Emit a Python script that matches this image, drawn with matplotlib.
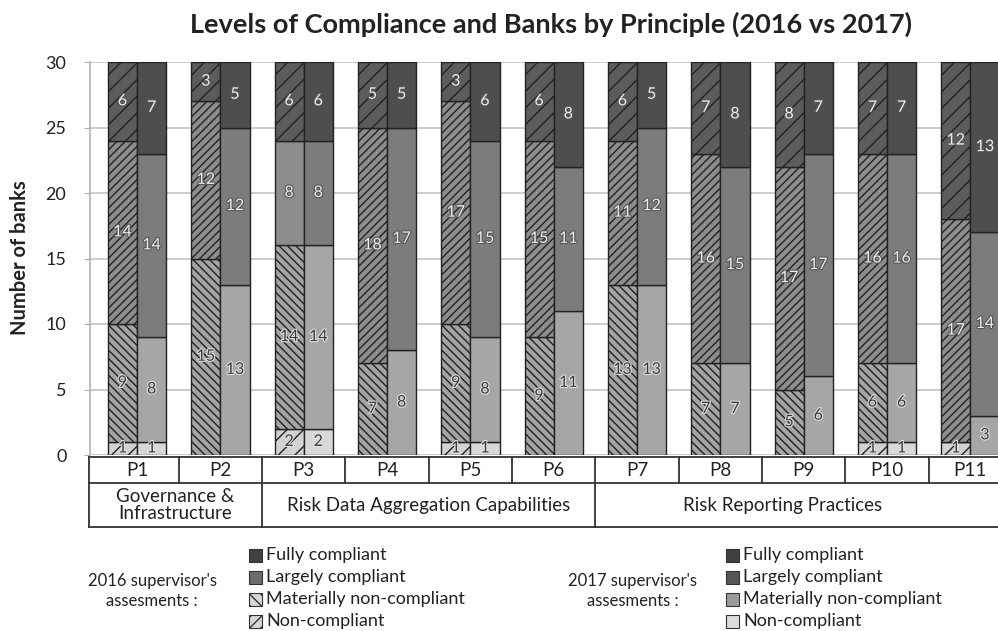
import numpy as np
import matplotlib
matplotlib.use("Agg")
import matplotlib.pyplot as plt
import matplotlib.patheffects as pe
from matplotlib.patches import Rectangle
from matplotlib.lines import Line2D
from matplotlib import transforms

plt.rcParams['font.family'] = ['Lato', 'DejaVu Sans']
plt.rcParams['hatch.linewidth'] = 1.0

principles = ['P1', 'P2', 'P3', 'P4', 'P5', 'P6', 'P7', 'P8', 'P9', 'P10', 'P11']
groups = ['Governance &\nInfrastructure', 'Risk Data Aggregation Capabilities', 'Risk Reporting Practices']
group_sizes = [2, 4, 5]
levels = ['Non-compliant', 'Materially non-compliant', 'Largely compliant', 'Fully compliant']

# 2016 assessments, bottom to top
non_2016 = [1, 0, 2, 0, 1, 0, 0, 0, 0, 1, 1]
mat_2016 = [9, 15, 14, 7, 9, 9, 13, 7, 5, 6, 0]
large_2016 = [14, 12, 8, 18, 17, 15, 11, 16, 17, 16, 17]
full_2016 = [6, 3, 6, 5, 3, 6, 6, 7, 8, 7, 12]

# 2017 assessments, bottom to top
non_2017 = [1, 0, 2, 0, 1, 0, 0, 0, 0, 1, 0]
mat_2017 = [8, 13, 14, 8, 8, 11, 13, 7, 6, 6, 3]
large_2017 = [14, 12, 8, 17, 15, 11, 12, 15, 17, 16, 14]
full_2017 = [7, 5, 6, 5, 6, 8, 5, 8, 7, 7, 13]

fill_2016 = ['#d2d2d2', '#a4a4a4', '#8c8c8c', '#5c5c5c']
hatch_2016 = ['//', '\\\\\\\\', '////', '//']
fill_2017 = ['#d8d8d8', '#a6a6a6', '#7c7c7c', '#4e4e4e']

fig = plt.figure(figsize=(9.98, 6.31), dpi=100)
ax = fig.add_axes([90 / 998, 176 / 631, 922 / 998, 393 / 631])

x = np.arange(len(principles))
w = 0.35

light_txt = dict(color='#eeeeee', path_effects=[pe.withStroke(linewidth=1.6, foreground='#555555')])
dark_txt = dict(color='#3a3a3a', path_effects=[pe.withStroke(linewidth=1.6, foreground='#e0e0e0')])

series_2016 = [non_2016, mat_2016, large_2016, full_2016]
series_2017 = [non_2017, mat_2017, large_2017, full_2017]

bottom = np.zeros(len(x))
for k, vals in enumerate(series_2016):
    vals = np.array(vals)
    bars = ax.bar(x - w / 2, vals, w, bottom=bottom, color=fill_2016[k], edgecolor='#222222',
                  linewidth=1.0, hatch=hatch_2016[k], zorder=3)
    for i, v in enumerate(vals):
        if v > 0:
            style = light_txt if k >= 2 else dark_txt
            ax.text(x[i] - w / 2, bottom[i] + v / 2, str(v), ha='center', va='center',
                    fontsize=11.5, zorder=5, **style)
    bottom += vals

bottom = np.zeros(len(x))
for k, vals in enumerate(series_2017):
    vals = np.array(vals)
    ax.bar(x + w / 2, vals, w, bottom=bottom, color=fill_2017[k], edgecolor='#222222',
           linewidth=1.0, zorder=3)
    for i, v in enumerate(vals):
        if v > 0:
            style = light_txt if k >= 2 else dark_txt
            ax.text(x[i] + w / 2, bottom[i] + v / 2, str(v), ha='center', va='center',
                    fontsize=11.5, zorder=5, **style)
    bottom += vals

# P3 2016 largely compliant segment is drawn without hatching
for p in ax.patches:
    if abs(p.get_x() + p.get_width() / 2 - (2 - w / 2)) < 1e-6 and abs(p.get_y() - 16) < 1e-6:
        p.set_hatch('')

ax.set_ylim(0, 30)
ax.set_xlim(-0.565, 10.5)
ax.set_yticks(range(0, 31, 5))
ax.set_xticks([])
ax.tick_params(axis='y', labelsize=13, length=4, color='#b0b0b0', pad=13, labelcolor='#222222')
ax.yaxis.grid(True, color='#c4c4c4', linewidth=1.2, zorder=0)
ax.set_axisbelow(True)
for s in ['top', 'right', 'bottom']:
    ax.spines[s].set_visible(False)
ax.spines['left'].set_color('#b0b0b0')
ax.spines['left'].set_linewidth(1.2)

# category table under the bars
trans = transforms.blended_transform_factory(ax.transData, ax.transAxes)
px = 1 / 393
row1_top, row1_bot, row2_bot = -2 * px, -28 * px, -72 * px
lc = '#333333'
lw = 1.3
xl, xr = -0.58, 10.5
for yy in [row1_top, row1_bot, row2_bot]:
    ax.add_line(Line2D([xl, xr], [yy, yy], transform=trans, color=lc, lw=lw, clip_on=False))
ax.add_line(Line2D([xl, xl], [row1_top, row2_bot], transform=trans, color=lc, lw=lw, clip_on=False))
for i in range(len(principles) - 1):
    ax.add_line(Line2D([i + 0.5, i + 0.5], [row1_top, row1_bot], transform=trans, color=lc, lw=lw,
                       clip_on=False))
for i, p in enumerate(principles):
    ax.text(i, (row1_top + row1_bot) / 2, p, transform=trans, ha='center', va='center',
            fontsize=13.5, color='#222222')

start = 0
for g, n in zip(groups, group_sizes):
    left = xl if start == 0 else start - 0.5
    right = start + n - 0.5
    if start > 0:
        ax.add_line(Line2D([left, left], [row1_bot, row2_bot], transform=trans, color=lc, lw=lw,
                           clip_on=False))
    cx = (left + right) / 2 if start + n < len(principles) else (left + 10.0) / 2
    ax.text(cx, (row1_bot + row2_bot) / 2, g, transform=trans, ha='center', va='center',
            fontsize=13.5, color='#222222', linespacing=1.05)
    start += n

fig.text(551 / 998, 1 - 24 / 631, 'Levels of Compliance and Banks by Principle (2016 vs 2017)',
         ha='center', va='center', fontsize=19.5, fontweight='bold', color='#222222')
fig.text(20 / 998, 1 - 258 / 631, 'Number of banks', rotation=90, ha='center', va='center',
         fontsize=14.5, fontweight='bold', color='#222222')


# legends
def legend_block(cx_title, sq_x, fills, hatches, title):
    fig.text(cx_title / 998, 1 - 591 / 631, title, ha='center', va='center', fontsize=12,
             color='#222222', linespacing=1.35)
    labels = levels[::-1]
    for j, lab in enumerate(labels):
        yc = 555 + j * 22
        r = Rectangle((sq_x / 998, 1 - (yc + 7) / 631), 13 / 998, 13 / 631, transform=fig.transFigure,
                      facecolor=fills[j], edgecolor='#333333', linewidth=0.8, hatch=hatches[j])
        fig.patches.append(r)
        fig.text((sq_x + 17) / 998, 1 - yc / 631, lab, ha='left', va='center', fontsize=13,
                 color='#222222')


legend_block(152, 249, ['#404040', '#6c6c6c', '#d8d8d8', '#d8d8d8'], ['', '', '\\\\\\', '///'],
             "2016 supervisor's\nassesments :")
legend_block(633, 726, ['#404040', '#555555', '#9a9a9a', '#dcdcdc'], ['', '', '', ''],
             "2017 supervisor's\nassesments :")

plt.savefig('out.png', dpi=100)
